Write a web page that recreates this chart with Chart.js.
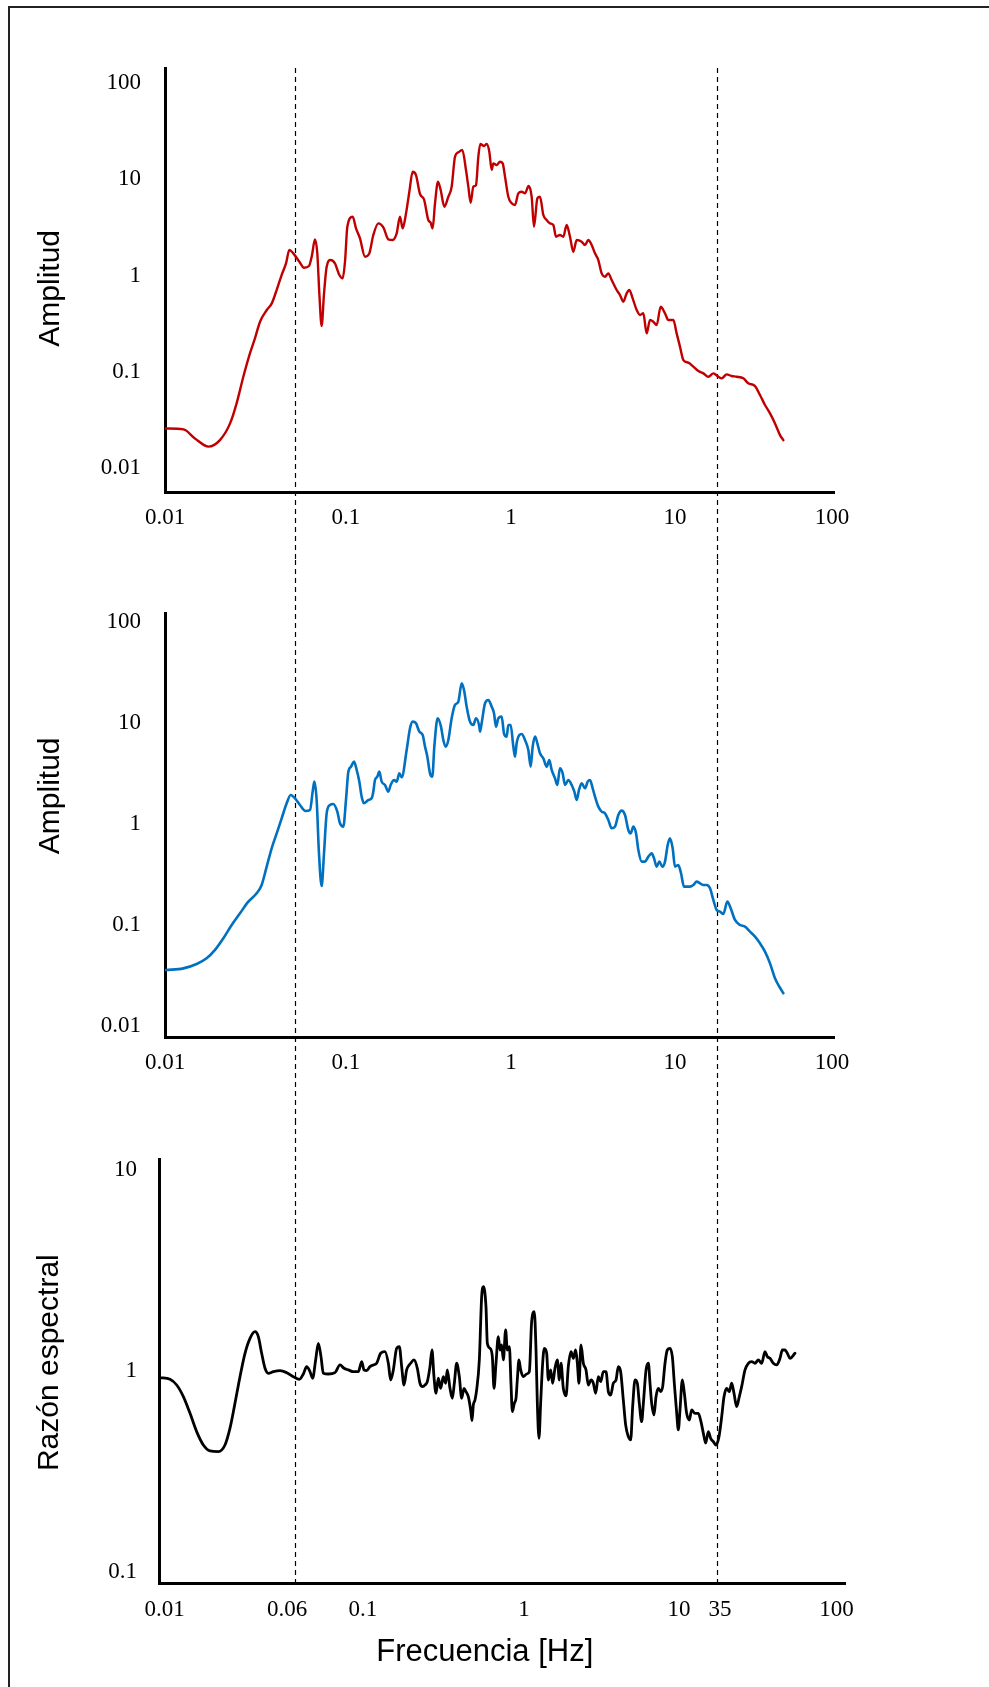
<!DOCTYPE html>
<html>
<head>
<meta charset="utf-8">
<script src="https://cdn.jsdelivr.net/npm/chart.js@4.4.1/dist/chart.umd.min.js"></script>
<style>
html,body{margin:0;padding:0;background:#fff;}
#fig{position:relative;width:989px;height:1687px;overflow:hidden;background:#fff;}
#frame{position:absolute;left:8px;top:6px;width:1200px;height:1800px;border-left:2px solid #222;border-top:2px solid #222;}
canvas{position:absolute;left:0;}
</style>
</head>
<body>
<div id="fig">
<div id="frame"></div>
<canvas id="c1" width="989" height="560" style="top:0px;width:989px;height:560px"></canvas>
<canvas id="c2" width="989" height="560" style="top:560px;width:989px;height:560px"></canvas>
<canvas id="c3" width="989" height="567" style="top:1120px;width:989px;height:567px"></canvas>
</div>
<script>
// ---------- data ----------
const redFreq = [0.0101,0.0129,0.0151,0.0182,0.0213,0.0245,0.0268,0.0294,0.0322,0.0345,0.0370,0.0406,0.0435,0.0465,0.0498,0.0529,0.0554,0.0585,0.0636,0.0678,0.0726,0.0757,0.0788,0.0814,0.0837,0.0864,0.0893,0.0926,0.0978,0.1038,0.1103,0.1154,0.1192,0.1231,0.1325,0.1387,0.1465,0.1570,0.1666,0.1760,0.1886,0.2020,0.2164,0.2297,0.2427,0.2542,0.2636,0.2761,0.2890,0.3026,0.3168,0.3347,0.3536,0.3753,0.3876,0.3984,0.4115,0.4288,0.4449,0.4680,0.4944,0.5176,0.5420,0.5674,0.5995,0.6304,0.6511,0.6723,0.6975,0.7237,0.7473,0.7681,0.8078,0.8383,0.8692,0.8979,
0.9185,0.9618,1.007,1.045,1.079,1.129,1.183,1.238,1.296,1.357,1.420,1.494,1.557,1.608,1.684,1.746,1.829,1.914,2.004,2.098,2.177,2.299,2.408,2.521,2.639,2.764,2.893,3.100,3.245,3.398,3.557,3.724,3.898,4.083,4.274,4.474,4.685,5.018,5.253,5.500,5.758,5.974,6.254,6.610,6.920,7.244,7.584,7.941,8.314,8.705,9.196,9.761,10.22,10.95,11.46,12.00,12.57,13.46,14.42,15.45,16.55,17.73,18.99,20.34,21.30,22.82,24.44,26.18,28.71,30.74,33.71,36.10,38.67,41.44,44.39,47.55,49.79];
const redAmp = [0.0258,0.0252,0.0203,0.0167,0.0195,0.0291,0.0470,0.0889,0.1553,0.2225,0.3315,0.4385,0.514,0.707,1.012,1.338,1.841,1.700,1.393,1.206,1.256,1.633,2.377,1.700,0.653,0.299,0.653,1.236,1.449,1.338,1.012,0.935,1.393,3.217,4.087,3.090,2.432,1.570,1.700,2.636,3.483,3.166,2.377,2.339,2.742,4.087,3.090,4.426,7.430,11.99,11.07,7.028,6.186,3.773,3.540,3.090,5.623,9.441,7.733,5.190,6.592,8.375,17.17,19.04,20.14,12.48,8.375,5.712,8.375,8.716,17.17,23.25,22.16,23.25,19.35,12.48,
14.64,14.07,15.23,14.64,10.64,6.592,5.623,5.402,7.141,7.430,7.141,8.511,6.592,3.217,6.339,6.592,4.256,3.773,3.483,3.348,2.533,2.636,2.533,3.348,2.533,1.769,2.339,2.247,2.075,2.339,2.075,1.700,1.449,1.053,0.973,1.053,0.898,0.707,0.627,0.535,0.653,0.707,0.579,0.4385,0.389,0.405,0.2507,0.345,0.3315,0.306,0.4747,0.405,0.345,0.345,0.2507,0.1823,0.1325,0.1243,0.1130,0.1019,0.0963,0.0889,0.0963,0.0889,0.0855,0.0940,0.0904,0.0889,0.0855,0.0759,0.0711,0.0574,0.0452,0.0370,0.0291,0.0220,0.0195];

const blueFreq = [0.01014,0.01287,0.01546,0.01774,0.01991,0.02233,0.02504,0.02808,0.03150,0.03533,0.03784,0.04055,0.04343,0.04654,0.04984,0.05339,0.05641,0.05988,0.06415,0.06938,0.07362,0.07636,0.07814,0.08067,0.08330,0.08644,0.08927,0.09260,0.09694,0.1015,0.1072,0.1112,0.1165,0.1208,0.1248,0.1295,0.1349,0.1400,0.1452,0.1499,0.1548,0.1643,0.1720,0.1760,0.1801,0.1860,0.1912,0.1974,0.2067,0.2164,0.2235,0.2340,0.2427,0.2519,0.2602,0.2786,0.2917,0.3026,0.3168,0.3317,0.3473,0.3587,0.3703,0.3841,0.3966,0.4077,0.4268,0.4468,0.4614,0.4765,0.4944,0.5176,0.5419,0.5674,0.5940,0.6135,0.6363,0.6661,0.6975,0.7237,0.7576,
0.7646,0.7820,0.8190,0.8574,0.8979,0.9271,0.9530,0.9840,1.030,1.064,1.104,1.129,1.166,1.210,1.238,1.266,1.314,1.357,1.420,1.487,1.536,1.579,1.631,1.684,1.746,1.829,1.914,1.986,2.051,2.147,2.217,2.299,2.386,2.464,2.580,2.701,2.802,2.893,2.988,3.100,3.245,3.367,3.477,3.607,3.724,3.898,4.083,4.274,4.474,4.685,4.904,5.134,5.376,5.628,5.892,6.085,6.312,6.550,6.764,7.083,7.413,7.760,8.126,8.391,8.705,9.031,9.410,9.761,10.13,10.45,10.85,11.20,11.73,12.17,12.68,13.15,13.77,14.42,15.10,15.81,16.55,17.33,18.14,18.99,19.89,20.82,21.80,23.02,24.11,25.59,27.42,29.37,31.46,33.71,36.10,38.67,41.44,44.39,47.11,49.79];
const blueAmp = [0.0358,0.0372,0.0411,0.0468,0.0566,0.0738,0.1000,0.1305,0.1702,0.2058,0.2489,0.378,0.574,0.808,1.138,1.602,1.937,1.795,1.542,1.345,1.376,2.090,2.625,1.728,0.512,0.243,0.512,1.275,1.542,1.578,1.325,1.015,0.941,1.728,3.297,3.696,4.143,3.425,2.625,1.865,1.602,1.728,1.795,2.090,2.728,2.943,3.297,2.625,2.434,2.090,2.434,2.728,2.625,3.175,2.899,5.404,8.855,10.31,9.924,8.209,7.606,5.831,4.642,3.175,2.943,5.831,11.12,9.199,6.787,5.831,6.787,11.12,15.08,16.26,24.70,21.22,14.51,10.31,9.555,11.12,9.199,
8.209,9.924,15.65,16.89,14.51,12.47,9.199,11.12,11.55,7.902,7.321,9.555,9.555,5.831,4.642,6.292,7.606,7.782,6.787,5.404,3.696,5.831,7.321,6.292,5.008,4.469,3.696,4.302,3.425,2.833,2.434,3.558,3.175,2.434,2.728,2.434,2.090,1.728,2.171,2.527,2.255,2.625,2.728,2.255,1.865,1.485,1.325,1.275,1.095,0.906,0.941,1.228,1.355,1.228,0.872,0.808,0.941,0.808,0.553,0.424,0.424,0.475,0.512,0.457,0.378,0.424,0.378,0.424,0.620,0.721,0.574,0.378,0.393,0.325,0.2396,0.2396,0.2396,0.2489,0.2686,0.2587,0.2489,0.2489,0.2307,0.1769,0.1408,0.1355,0.1285,0.1702,0.1462,0.1121,0.1000,0.0963,0.0859,0.0766,0.0658,0.0545,0.0417,0.0297,0.0245,0.0211];

const ratioFreq = [0.01013,0.01159,0.01268,0.01387,0.01517,0.01658,0.01814,0.01984,0.02218,0.02425,0.02594,0.02773,0.02967,0.03173,0.03394,0.03629,0.03795,0.03968,0.04151,0.04340,0.04642,0.05076,0.05552,0.06072,0.06581,0.06945,0.07261,0.07594,0.07870,0.08192,0.08492,0.08802,0.09082,0.09712,0.1062,0.1136,0.1199,0.1271,0.1359,0.1453,0.1520,0.1568,0.1625,0.1699,0.1777,0.1858,0.1961,0.2078,0.2174,0.2243,0.2325,0.2430,0.2520,0.2600,0.2683,0.2780,0.2934,0.3068,0.3208,0.3324,0.3446,0.3556,0.3669,0.3802,0.3906,0.4012,0.4122,0.4253,0.4388,0.4548,0.4692,0.4798,0.4974,0.5133,0.5272,0.5441,0.5639,0.5818,0.6003,0.6166,0.6362,0.6566,0.6683,0.6805,0.6958,0.7115,0.7375,0.7611,
0.7785,0.8065,0.8213,0.8511,0.8784,0.8982,0.9226,0.9519,0.9734,0.9954,1.018,1.050,1.074,1.104,1.128,1.149,1.180,1.207,1.228,1.256,1.285,1.331,1.392,1.443,1.489,1.543,1.579,1.607,1.643,1.680,1.726,1.766,1.822,1.863,1.922,1.974,2.037,2.101,2.160,2.208,2.278,2.362,2.436,2.526,2.605,2.689,2.750,2.812,2.888,2.981,3.089,3.187,3.304,3.409,3.518,3.645,3.761,3.898,4.040,4.169,4.301,4.459,4.621,4.768,4.919,5.098,5.260,5.452,5.627,5.779,5.964,6.154,6.320,6.522,6.673,6.917,7.136,7.295,7.460,7.698,7.907,8.158,8.418,8.647,8.922,9.204,9.541,9.845,10.11,10.44,10.67,10.91,11.26,11.57,11.93,12.37,12.76,13.35,13.96,14.46,14.93,15.40,15.96,16.47,17.07,17.69,18.42,19.10,19.71,20.42,21.16,21.84,22.53,23.35,24.20,24.97,26.12,27.31,28.57,29.87,31.23,32.66,34.16,35.24,36.53,38.20,39.95,41.78,43.11,44.69,46.11,47.79,51.10];
const ratioAmp = [0.927,0.909,0.852,0.746,0.616,0.500,0.429,0.401,0.398,0.429,0.520,0.691,0.937,1.224,1.452,1.567,1.480,1.224,1.031,0.974,0.992,1.004,0.981,0.937,0.909,0.966,1.051,0.992,0.920,1.134,1.372,1.178,0.974,0.966,0.981,1.071,1.031,1.012,0.992,0.992,1.113,1.012,1.004,1.051,1.071,1.092,1.224,1.247,1.092,0.902,1.012,1.296,1.321,1.051,0.852,1.012,1.092,1.134,1.031,0.869,0.836,0.852,0.885,1.051,1.271,0.937,0.775,0.920,0.820,0.937,0.869,1.012,0.820,0.732,0.869,1.092,0.937,0.732,0.820,0.790,0.746,0.640,0.567,0.678,0.718,0.805,1.134,2.338,
2.621,2.086,1.372,1.296,1.178,0.820,1.092,1.480,1.271,1.346,1.134,1.597,1.271,1.321,0.869,0.628,0.691,0.732,0.902,1.134,1.012,0.937,0.966,0.992,1.757,1.970,1.271,0.691,0.463,0.691,1.092,1.296,1.224,0.902,1.012,0.869,1.031,1.134,0.902,1.092,0.820,0.752,1.051,1.247,1.156,1.271,1.092,0.869,1.346,1.092,1.012,0.852,0.902,0.869,0.775,0.937,0.885,0.992,0.992,0.790,0.760,0.869,0.902,1.051,0.992,0.718,0.540,0.472,0.455,0.665,0.902,0.869,0.691,0.560,0.691,1.012,1.092,0.869,0.691,0.605,0.746,0.820,0.790,0.836,1.092,1.271,1.296,1.178,0.869,0.616,0.510,0.640,0.902,0.775,0.616,0.571,0.640,0.616,0.616,0.560,0.491,0.438,0.500,0.463,0.446,0.429,0.472,0.593,0.746,0.820,0.790,0.869,0.775,0.665,0.746,0.836,1.012,1.092,1.113,1.092,1.134,1.092,1.247,1.178,1.156,1.092,1.071,1.156,1.271,1.271,1.224,1.156,1.224];

// tick labels and where they sit on the frequency axes
const ampTickValues  = [0.01, 0.1, 1, 10, 100];
const ampTickLabels  = ['0.01', '0.1', '1', '10', '100'];
const ratioTickValues = [0.1, 1, 10];
const ratioTickLabels = ['0.1', '1', '10'];
const freqTickLabels = ['0.01', '0.1', '1', '10', '100'];
const freqTickPos    = [0.01, 0.1208, 1.172, 11.2, 97.3];
const ratioFreqTickLabels = ['0.01', '0.06', '0.1', '1', '10', '35', '100'];
const ratioFreqTickPos    = [0.0108, 0.0558, 0.1547, 1.344, 10.77, 18.67, 89.2];
// dashed frequency limits
const limitsAmp   = [0.0599, 19.97];
const limitsRatio = [0.0621, 17.93];

// ---------- helpers ----------
const SERIF = "'Liberation Serif','Times New Roman',serif";
const SANS = "'Liberation Sans',Arial,sans-serif";

const limitPlugin = {
  id: 'limits',
  beforeDatasetsDraw(chart, args, opts) {
    if (!opts || !opts.values) return;
    const {ctx, chartArea, scales} = chart;
    const y0 = opts.fromAreaTop ? chartArea.top : 0;
    const y1 = opts.toAreaBottom ? chartArea.bottom : chart.height;
    ctx.save();
    ctx.strokeStyle = '#000';
    ctx.lineWidth = 1.2;
    ctx.setLineDash([5, 4]);
    for (const v of opts.values) {
      const px = Math.round(scales.x.getPixelForValue(v)) + 0.5;
      ctx.beginPath();
      ctx.moveTo(px, y0);
      ctx.lineTo(px, y1);
      ctx.stroke();
    }
    ctx.restore();
  }
};

function pts(fx, fy) { return fx.map((f, i) => ({x: f, y: fy[i]})); }

function build(id, o) {
  return new Chart(document.getElementById(id), {
    type: 'line',
    data: { datasets: [{
      data: pts(o.fx, o.fy),
      borderColor: o.color,
      borderWidth: o.lw,
      pointRadius: 0,
      cubicInterpolationMode: 'monotone',
      fill: false,
      borderJoinStyle: 'round',
      borderCapStyle: 'round'
    }]},
    plugins: [limitPlugin],
    options: {
      responsive: false,
      animation: false,
      devicePixelRatio: 1,
      layout: { padding: o.pad },
      plugins: {
        legend: {display: false},
        tooltip: {enabled: false},
        limits: o.limits
      },
      scales: {
        x: {
          type: 'logarithmic',
          min: o.xmin, max: o.xmax,
          afterFit: s => { s.height = o.xh; },
          afterBuildTicks: s => { s.ticks = o.xPos.map(v => ({value: v})); },
          grid: {display: false, drawTicks: false},
          border: {display: true, width: 3, color: '#000'},
          ticks: {
            autoSkip: false, maxRotation: 0, minRotation: 0,
            padding: o.xPadding,
            color: '#000',
            font: {family: SERIF, size: 23},
            callback: (v, i) => o.xLabels[i]
          },
          title: o.xTitle || {display: false}
        },
        y: {
          type: 'logarithmic',
          min: o.ymin, max: o.ymax,
          afterFit: s => { s.width = o.yw; },
          afterBuildTicks: s => { s.ticks = o.yVals.map(v => ({value: v})); },
          grid: {display: false, drawTicks: false},
          border: {display: true, width: 3, color: '#000'},
          ticks: {
            padding: o.yPadding,
            color: '#000',
            font: {family: SERIF, size: 23},
            callback: (v, i) => o.yLabels[i]
          },
          title: {
            display: true,
            text: o.yTitle,
            color: '#000',
            font: {family: SANS, size: 30},
            padding: {top: o.yTitlePad, bottom: 0}
          }
        }
      }
    }
  });
}

// top panel (red)
build('c1', {
  fx: redFreq, fy: redAmp, color: '#C00000', lw: 2.4,
  pad: {left: 0, top: 68, right: 155, bottom: 0},
  xmin: 0.01, xmax: 100, xh: 68, xPos: freqTickPos, xLabels: freqTickLabels, xPadding: 12,
  ymin: 0.00564, ymax: 143.2, yw: 165, yVals: ampTickValues, yLabels: ampTickLabels, yPadding: 24,
  yTitle: 'Amplitud  ', yTitlePad: 33,
  limits: {values: limitsAmp, fromAreaTop: true, toAreaBottom: false}
});

// middle panel (blue)
build('c2', {
  fx: blueFreq, fy: blueAmp, color: '#0070C0', lw: 2.6,
  pad: {left: 0, top: 53, right: 155, bottom: 0},
  xmin: 0.01, xmax: 100, xh: 83, xPos: freqTickPos, xLabels: freqTickLabels, xPadding: 12,
  ymin: 0.00778, ymax: 122.7, yw: 165, yVals: ampTickValues, yLabels: ampTickLabels, yPadding: 24,
  yTitle: '       Amplitud', yTitlePad: 33,
  limits: {values: limitsAmp, fromAreaTop: false, toAreaBottom: false}
});

// bottom panel (spectral ratio)
build('c3', {
  fx: ratioFreq, fy: ratioAmp, color: '#000000', lw: 2.8,
  pad: {left: 0, top: 39, right: 144, bottom: 0},
  xmin: 0.01, xmax: 100, xh: 104, xPos: ratioFreqTickPos, xLabels: ratioFreqTickLabels, xPadding: 13,
  ymin: 0.0886, ymax: 11.28, yw: 159, yVals: ratioTickValues, yLabels: ratioTickLabels, yPadding: 22,
  yTitle: '  Razón espectral', yTitlePad: 32,
  xTitle: {display: true, text: 'Frecuencia [Hz]    ', color: '#000', font: {family: SANS, size: 31}, padding: {top: 0, bottom: 16}},
  limits: {values: limitsRatio, fromAreaTop: false, toAreaBottom: true}
});
</script>
</body>
</html>
